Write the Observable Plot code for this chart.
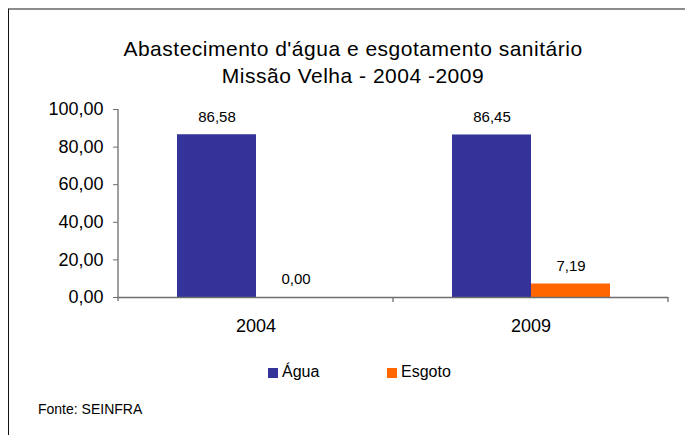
<!DOCTYPE html>
<html><head><meta charset="utf-8">
<script src="https://cdn.jsdelivr.net/npm/d3@7"></script>
<script src="https://cdn.jsdelivr.net/npm/@observablehq/plot@0.6"></script>
<style>
body{margin:0;background:#fff;font-family:"Liberation Sans",Arial,sans-serif;}
#wrap{position:relative;width:685px;height:435px;overflow:hidden;background:#fff;}
#frame{position:absolute;left:8px;top:8px;width:700px;height:500px;border-top:2px solid #8c8c8c;border-left:1.5px solid #111;box-sizing:border-box;}
#chart{position:absolute;left:0;top:0;}
.t{position:absolute;white-space:nowrap;line-height:1;color:#000;}
.title{left:0;width:706px;text-align:center;font-size:21px;letter-spacing:0.5px;}
.leg{font-size:16px;}
.sw{position:absolute;width:10px;height:10px;}
</style></head>
<body>
<div id="wrap">
  <div id="frame"></div>
  <div id="chart"></div>
</div>
<script>
const titleLines = ["Abastecimento d'água e esgotamento sanitário", "Missão Velha - 2004 -2009"];
const years = ["2004", "2009"];
const series = ["Água", "Esgoto"];
const agua = [86.58, 86.45];
const esgoto = [0.00, 7.19];
const colors = ["#333399", "#FF6600"];
const yTicks = [0, 20, 40, 60, 80, 100];
const caption = "Fonte: SEINFRA";

const fmt = v => d3.format(".2f")(v).replace(".", ",");
const data = years.flatMap((yr, i) => [
  {year: yr, series: series[0], value: agua[i]},
  {year: yr, series: series[1], value: esgoto[i]}
]);

const chart = Plot.plot({
  width: 685, height: 435,
  marginTop: 109, marginBottom: 138, marginLeft: 118, marginRight: 17,
  style: {fontFamily: "'Liberation Sans', Arial, sans-serif", background: "transparent", overflow: "visible"},
  fx: {domain: years, padding: 0, axis: null},
  x: {domain: series, paddingInner: 0, paddingOuter: 0.74, axis: null},
  y: {domain: [0, 100], axis: null},
  color: {domain: series, range: colors},
  marks: [
    Plot.barY(data, {fx: "year", x: "series", y: "value", fill: "series"}),
    Plot.text(data, {fx: "year", x: "series", y: "value", text: d => fmt(d.value), dy: -18, fontSize: 15, fill: "#000"}),
    Plot.ruleY([0], {stroke: "#6e6e6e", strokeWidth: 1.3}),
    Plot.axisY({ticks: yTicks, tickFormat: fmt, tickSize: 5, tickPadding: 10, fontSize: 18, stroke: "#6e6e6e", label: null}),
    Plot.axisFx({anchor: "bottom", tickSize: 0, tickPadding: 22, fontSize: 18, label: null})
  ]
});
document.getElementById("chart").appendChild(chart);

// axis lines and category boundary ticks through the scales
const ys = chart.scale("y"), fxs = chart.scale("fx");
const svg = d3.select(chart);
const y0 = ys.apply(0), yTop = ys.apply(100);
const xLeft = fxs.range[0], xRight = fxs.range[1];
const g = svg.append("g").attr("stroke", "#6e6e6e").attr("stroke-width", 1.3);
g.append("line").attr("x1", xLeft).attr("x2", xLeft).attr("y1", yTop).attr("y2", y0 + 4);
const bounds = years.slice(1).map(y => fxs.apply(y)).concat([xRight]);
bounds.forEach(b => g.append("line").attr("x1", b).attr("x2", b).attr("y1", y0).attr("y2", y0 + 5));

const wrap = document.getElementById("wrap");
function addText(txt, cls, left, top) {
  const d = document.createElement("div");
  d.className = "t " + cls;
  d.textContent = txt;
  if (left !== null) d.style.left = left + "px";
  d.style.top = top + "px";
  wrap.appendChild(d);
  return d;
}
addText(titleLines[0], "title", null, 38);
addText(titleLines[1], "title", null, 65);

// legend
const legX = [268, 387];
series.forEach((s, i) => {
  const sw = document.createElement("div");
  sw.className = "sw";
  sw.style.left = legX[i] + "px";
  sw.style.top = "368px";
  sw.style.background = colors[i];
  wrap.appendChild(sw);
  addText(s, "leg", legX[i] + 14, 363.5);
});
const cap = addText(caption, "", 38, 402);
cap.style.fontSize = "14px";
</script>
</body></html>
